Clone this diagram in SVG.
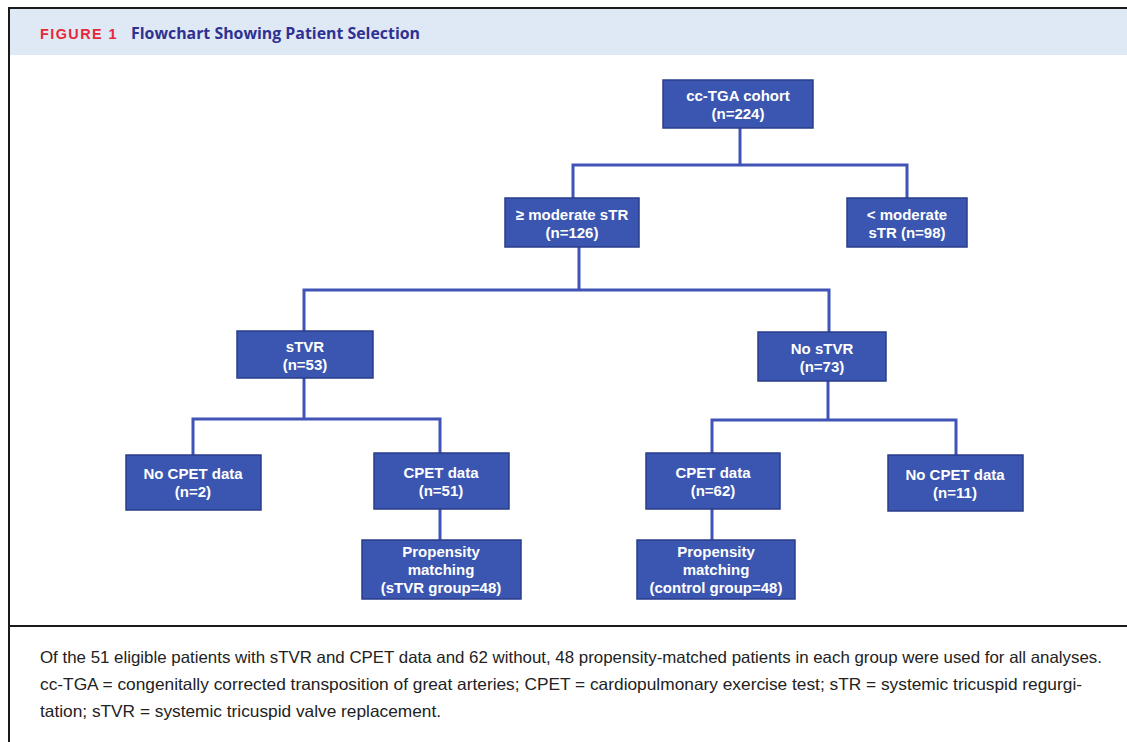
<svg xmlns="http://www.w3.org/2000/svg" width="1127" height="742" viewBox="0 0 1127 742">
<style>
.box{fill:#3a56b0;stroke:#2a3d8a;stroke-width:1.5}
.bt{font-family:"Liberation Sans",Arial,sans-serif;font-weight:bold;font-size:15px;fill:#ffffff;text-anchor:middle}
.ln{fill:none;stroke:#3f54b6;stroke-width:3}
.cap{font-family:"Liberation Sans",Arial,sans-serif;font-size:16.5px;fill:#222222}
</style>
<rect x="0" y="0" width="1127" height="742" fill="#ffffff"/>
<rect x="9" y="9" width="1118" height="46" fill="#dfe9f5"/>
<line x1="8" y1="8" x2="1127" y2="8" stroke="#1a1a1a" stroke-width="2"/>
<line x1="9" y1="7" x2="9" y2="742" stroke="#1a1a1a" stroke-width="2"/>
<line x1="9" y1="626" x2="1127" y2="626" stroke="#1a1a1a" stroke-width="2"/>
<text x="40" y="39" font-family="'Liberation Sans',Arial,sans-serif" font-weight="bold" font-size="15" letter-spacing="1.5" fill="#e8283a" textLength="78" lengthAdjust="spacingAndGlyphs">FIGURE 1</text>
<text x="131" y="39" font-family="'Open Sans','Liberation Sans',sans-serif" font-weight="bold" font-size="16" fill="#2e3192" textLength="289" lengthAdjust="spacingAndGlyphs">Flowchart Showing Patient Selection</text>
<g id="connectors">
<polyline class="ln" points="740,128 740,165"/>
<polyline class="ln" points="573,198 573,165 907,165 907,198"/>
<polyline class="ln" points="579,247 579,290"/>
<polyline class="ln" points="304,331 304,290 829,290 829,332"/>
<polyline class="ln" points="304,378 304,419"/>
<polyline class="ln" points="193,455 193,419 440,419 440,453"/>
<polyline class="ln" points="440,509 440,540"/>
<polyline class="ln" points="828,381 828,420"/>
<polyline class="ln" points="712,453 712,420 956,420 956,455"/>
<polyline class="ln" points="712,509 712,540"/>
</g>
<g id="n-cohort"><rect class="box" x="663" y="80" width="150" height="48"/><text class="bt" x="738" y="101">cc-TGA cohort</text><text class="bt" x="738" y="119">(n=224)</text></g>
<g id="n-modstr"><rect class="box" x="505" y="198" width="134" height="49"/><text class="bt" x="572" y="220">≥ moderate sTR</text><text class="bt" x="572" y="238">(n=126)</text></g>
<g id="n-lessstr"><rect class="box" x="847" y="198" width="120" height="49"/><text class="bt" x="907" y="220">&lt; moderate</text><text class="bt" x="907" y="238">sTR (n=98)</text></g>
<g id="n-stvr"><rect class="box" x="237" y="331" width="136" height="47"/><text class="bt" x="305" y="352">sTVR</text><text class="bt" x="305" y="370">(n=53)</text></g>
<g id="n-nostvr"><rect class="box" x="758" y="332" width="128" height="49"/><text class="bt" x="822" y="354">No sTVR</text><text class="bt" x="822" y="372">(n=73)</text></g>
<g id="n-nocpet1"><rect class="box" x="126" y="455" width="135" height="55"/><text class="bt" x="193" y="479">No CPET data</text><text class="bt" x="193" y="497">(n=2)</text></g>
<g id="n-cpet1"><rect class="box" x="374" y="453" width="135" height="56"/><text class="bt" x="441" y="478">CPET data</text><text class="bt" x="441" y="496">(n=51)</text></g>
<g id="n-cpet2"><rect class="box" x="646" y="453" width="134" height="56"/><text class="bt" x="713" y="478">CPET data</text><text class="bt" x="713" y="496">(n=62)</text></g>
<g id="n-nocpet2"><rect class="box" x="888" y="455" width="135" height="56"/><text class="bt" x="955" y="480">No CPET data</text><text class="bt" x="955" y="498">(n=11)</text></g>
<g id="n-prop1"><rect class="box" x="362" y="540" width="159" height="59"/><text class="bt" x="441" y="557">Propensity</text><text class="bt" x="441" y="575">matching</text><text class="bt" x="441" y="593">(sTVR group=48)</text></g>
<g id="n-prop2"><rect class="box" x="637" y="540" width="158" height="59"/><text class="bt" x="716" y="557">Propensity</text><text class="bt" x="716" y="575">matching</text><text class="bt" x="716" y="593">(control group=48)</text></g>
<text class="cap" x="40" y="663" textLength="1062" lengthAdjust="spacingAndGlyphs">Of the 51 eligible patients with sTVR and CPET data and 62 without, 48 propensity-matched patients in each group were used for all analyses.</text>
<text class="cap" x="40" y="690" textLength="1042" lengthAdjust="spacingAndGlyphs">cc-TGA = congenitally corrected transposition of great arteries; CPET = cardiopulmonary exercise test; sTR = systemic tricuspid regurgi-</text>
<text class="cap" x="40" y="717" textLength="401" lengthAdjust="spacingAndGlyphs">tation; sTVR = systemic tricuspid valve replacement.</text>
</svg>
